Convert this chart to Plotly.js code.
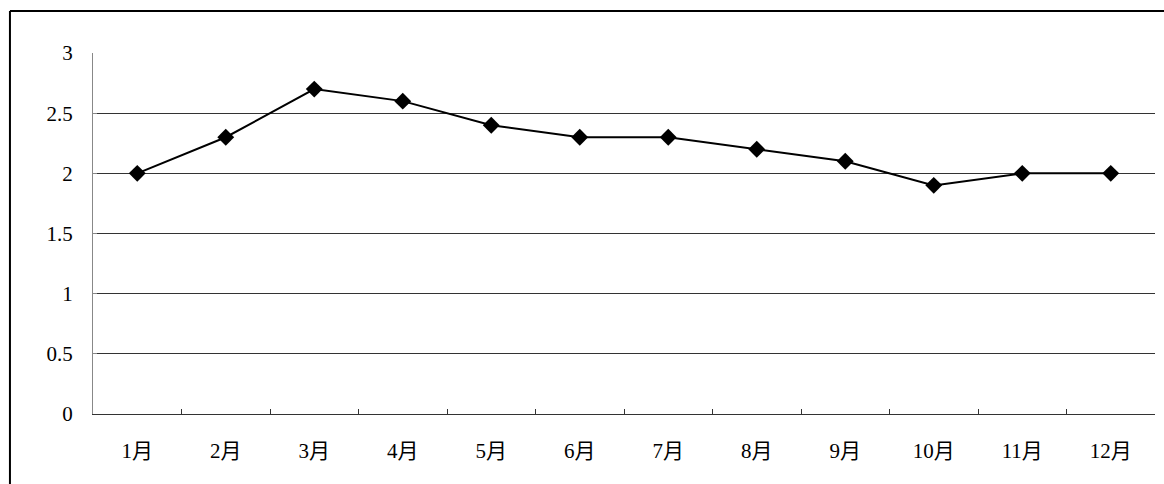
<!DOCTYPE html>
<html><head><meta charset="utf-8">
<script src="https://cdn.plot.ly/plotly-3.0.1.min.js"></script>
<style>html,body{margin:0;padding:0;background:#fff}#chart{width:1164px;height:484px}</style>
</head><body><div id="chart"></div>
<script>
const months = ['1月','2月','3月','4月','5月','6月','7月','8月','9月','10月','11月','12月'];
const values = [2.0, 2.3, 2.7, 2.6, 2.4, 2.3, 2.3, 2.2, 2.1, 1.9, 2.0, 2.0];
const yTicks = [0, 0.5, 1, 1.5, 2, 2.5, 3];
const yTickLabels = ['0', '0.5', '1', '1.5', '2', '2.5', '3'];

const font = {family: '"Liberation Serif", "Noto Sans CJK SC", serif', size: 21, color: '#000'};

const trace = {
  x: months, y: values, type: 'scatter', mode: 'lines+markers',
  line: {color: '#000', width: 2},
  marker: {symbol: 'diamond', size: 13, color: '#000'},
  showlegend: false, hoverinfo: 'x+y'
};

const layout = {
  width: 1164, height: 484,
  margin: {l: 93, r: 9, t: 53, b: 70, pad: 0},
  paper_bgcolor: '#fff', plot_bgcolor: '#fff',
  font: font,
  xaxis: {
    type: 'category', showgrid: false, showline: true, linecolor: '#333', linewidth: 1,
    ticks: 'inside', tickson: 'boundaries', ticklen: 5, tickcolor: '#333',
    ticklabelstandoff: 18,
    tickfont: font, zeroline: false, range: [-0.5, 11.5], fixedrange: true
  },
  yaxis: {
    range: [0, 3], tickvals: yTicks, ticktext: yTickLabels,
    showgrid: true, gridcolor: '#333', gridwidth: 1,
    showline: true, linecolor: '#888', linewidth: 1,
    ticks: 'inside', ticklen: 4, tickcolor: '#888',
    ticklabelstandoff: 15, tickfont: font, zeroline: false, fixedrange: true
  },
  shapes: [
    {type: 'line', xref: 'paper', yref: 'paper', x0: -0.0782, x1: 1.2, y0: 1.1163, y1: 1.1163, line: {color: '#000', width: 2}},
    {type: 'line', xref: 'paper', yref: 'paper', x0: -0.0782, x1: -0.0782, y0: 1.1163, y1: -0.5, line: {color: '#000', width: 2}}
  ]
};

Plotly.newPlot('chart', [trace], layout, {staticPlot: true, displayModeBar: false});
</script></body></html>
